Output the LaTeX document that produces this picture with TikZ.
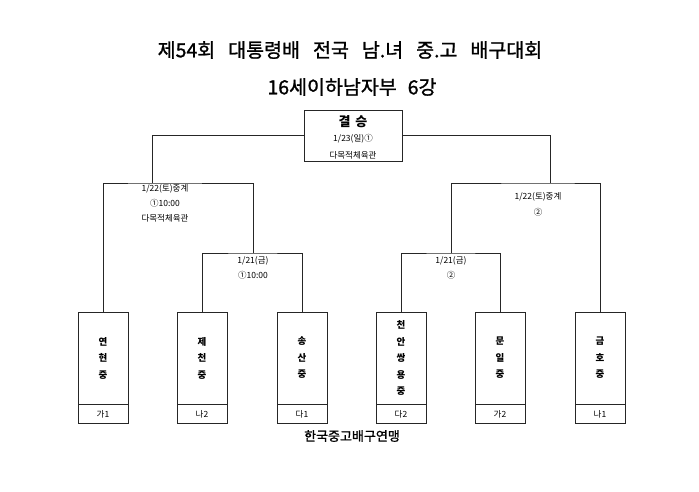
\documentclass[tikz,border=0pt]{standalone}
\usepackage{fontspec}
\setmainfont{Noto Sans CJK KR}
\newfontfamily\headfont[FakeBold=1.2]{Noto Sans CJK KR}

\tikzset{
    line/.style={line width=0.8pt, draw=black!85},
    team/.style={line, minimum width=50pt, minimum height=92pt, inner sep=0pt, align=center, font=\bfseries\fontsize{9.5}{16.5}\selectfont},
    group/.style={line, minimum width=50pt, minimum height=19pt, inner sep=0pt, font=\fontsize{8.5}{10}\selectfont},
    info/.style={align=center, inner sep=0pt, font=\fontsize{8.5}{15}\selectfont},
}

\begin{document}
\begin{tikzpicture}[x=1pt, y=-1pt]
        \useasboundingbox [fill=white] (0,0) rectangle (699,491);
        % title
        \node [font=\headfont\fontsize{19.5}{22}\selectfont] (title) at (350,50) {제54회\hspace{13pt}대통령배\hspace{13pt}전국\hspace{13pt}남.녀\hspace{13pt}중.고\hspace{13pt}배구대회};
        \node [font=\headfont\fontsize{19.5}{22}\selectfont] (sub) at (352,87) {16세이하남자부\hspace{11pt}6강};
        % final
        \node [line, minimum width=98pt, minimum height=51pt] (final) at (353,135.5) {};
        \node [font=\bfseries\fontsize{13}{15}\selectfont] (fname) at (353,122) {결\hspace{5pt}승};
        \node [info] (fdate) at (353,139) {1/23(일)①};
        \node [info] (fhall) at (353,155) {다목적체육관};
        % teams
        \node [team] (t1) at (103,358) {연\\현\\중};
        \node [team] (t2) at (202,358) {제\\천\\중};
        \node [team] (t3) at (302,358) {송\\산\\중};
        \node [team] (t4) at (401,358) {천\\안\\쌍\\용\\중};
        \node [team] (t5) at (500,358) {문\\일\\중};
        \node [team] (t6) at (600,358) {금\\호\\중};
        \node [group] (g1) at (t1.south) [anchor=north] {가1};
        \node [group] (g2) at (t2.south) [anchor=north] {나2};
        \node [group] (g3) at (t3.south) [anchor=north] {다1};
        \node [group] (g4) at (t4.south) [anchor=north] {다2};
        \node [group] (g5) at (t5.south) [anchor=north] {가2};
        \node [group] (g6) at (t6.south) [anchor=north] {나1};
        % bracket
        \coordinate (qL) at (253,253);
        \coordinate (qR) at (451,253);
        \coordinate (sL) at (152,183);
        \coordinate (sR) at (550,183);
        \draw [line] (t2.north) |- (qL) -| (t3.north);
        \draw [line] (t4.north) |- (qR) -| (t5.north);
        \draw [line] (t1.north) |- (sL) -| (qL);
        \draw [line] (qR) |- (sR) -| (t6.north);
        \draw [line] (sL) |- (final.west);
        \draw [line] (sR) |- (final.east);
        % match info
        \node [info] (lsemi) at (165,203) {1/22(토)중계\\①10:00\\다목적체육관};
        \node [info] (lquarter) at (253,268) {1/21(금)\\①10:00};
        \node [info, font=\fontsize{8.5}{16}\selectfont] (rsemi) at (538,204) {1/22(토)중계\\②};
        \node [info] (rquarter) at (451,268) {1/21(금)\\②};
        % footer
        \node [font=\headfont\fontsize{13}{15}\selectfont] (org) at (352,436) {한국중고배구연맹};
    \end{tikzpicture}
\end{document}
